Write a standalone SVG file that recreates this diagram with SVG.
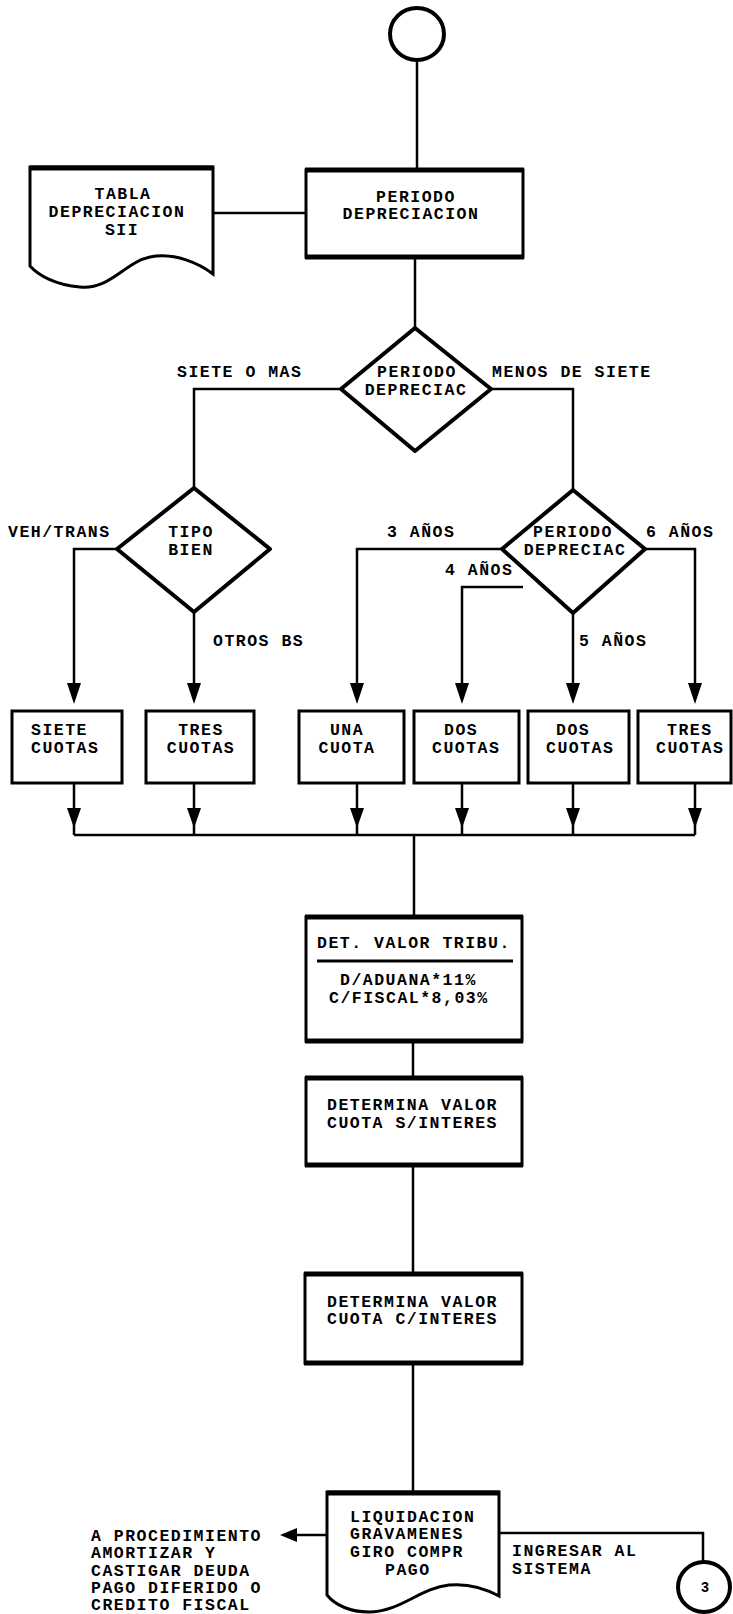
<svg xmlns="http://www.w3.org/2000/svg" width="733" height="1614" viewBox="0 0 733 1614">
<defs>
<style>
.t{font-family:"Liberation Mono","DejaVu Sans Mono",monospace;font-weight:bold;font-size:16.5px;letter-spacing:1.5px;fill:#000}
.m{text-anchor:middle}
.ln{fill:none;stroke:#000;stroke-width:2.5}
.bx{fill:#fff;stroke:#000;stroke-width:3}
.thk{stroke:#000;stroke-width:5}
.dm{fill:#fff;stroke:#000;stroke-width:4;stroke-linejoin:round}
.ah{fill:#000}
</style>
</defs>
<rect width="733" height="1614" fill="#fff"/>
<g id="connectors">
<path class="ln" d="M417,60 V170"/>
<path class="ln" d="M213,213 H306"/>
<path class="ln" d="M415,257 V328"/>
<path class="ln" d="M341,389 H194 V488"/>
<path class="ln" d="M491,389 H573 V490"/>
<path class="ln" d="M117,549 H74 V685"/>
<path class="ln" d="M194,612 V685"/>
<path class="ln" d="M502,549 H357 V685"/>
<path class="ln" d="M523,587 H462 V685"/>
<path class="ln" d="M573,613 V685"/>
<path class="ln" d="M645,549 H695 V685"/>
<polygon class="ah" points="67,683 81,683 74,704"/>
<polygon class="ah" points="187,683 201,683 194,704"/>
<polygon class="ah" points="350,683 364,683 357,704"/>
<polygon class="ah" points="455,683 469,683 462,704"/>
<polygon class="ah" points="566,683 580,683 573,704"/>
<polygon class="ah" points="688,683 702,683 695,704"/>
<path class="ln" d="M74,783 V835 M194,783 V835 M357,783 V835 M462,783 V835 M573,783 V835 M695,783 V835"/>
<path class="ln" d="M74,835 H695"/>
<polygon class="ah" points="67,808 81,808 74,828"/>
<polygon class="ah" points="187,808 201,808 194,828"/>
<polygon class="ah" points="350,808 364,808 357,828"/>
<polygon class="ah" points="455,808 469,808 462,828"/>
<polygon class="ah" points="566,808 580,808 573,828"/>
<polygon class="ah" points="688,808 702,808 695,828"/>
<path class="ln" d="M414,835 V917"/>
<path class="ln" d="M413,1041 V1078"/>
<path class="ln" d="M413,1165 V1274"/>
<path class="ln" d="M413,1363 V1492"/>
<path class="ln" d="M327,1535 H295"/>
<polygon class="ah" points="297,1528 297,1542 280,1535"/>
<path class="ln" d="M499,1533 H703 V1562"/>
</g>
<g id="start">
<ellipse cx="417" cy="34" rx="27" ry="26" fill="#fff" stroke="#000" stroke-width="4"/>
</g>
<g id="tabla">
<path class="bx" d="M30,167 H213 V274 C200,264 175,252 150,257 C125,262 110,290 80,287 C55,285 38,275 30,266 Z"/>
<path class="thk" d="M30,168 H213"/>
<text class="t m" x="123" y="199">TABLA</text>
<text class="t m" x="117" y="217">DEPRECIACION</text>
<text class="t m" x="122" y="235">SII</text>
</g>
<g id="periodo-box">
<rect class="bx" x="306" y="170" width="217" height="87"/>
<path class="thk" d="M305,170 H524 M305,257 H524"/>
<text class="t m" x="416" y="202">PERIODO</text>
<text class="t m" x="411" y="219">DEPRECIACION</text>
</g>
<g id="dec1">
<polygon class="dm" points="415,328 491,389 415,451 341,389"/>
<text class="t m" x="417" y="377">PERIODO</text>
<text class="t m" x="416" y="395">DEPRECIAC</text>
<text class="t" x="177" y="377">SIETE O MAS</text>
<text class="t" x="492" y="377">MENOS DE SIETE</text>
</g>
<g id="dec-tipo">
<polygon class="dm" points="194,488 270,549 194,612 117,549"/>
<text class="t m" x="191" y="537">TIPO</text>
<text class="t m" x="191" y="555">BIEN</text>
<text class="t" x="8" y="537">VEH/TRANS</text>
<text class="t" x="213" y="646">OTROS BS</text>
</g>
<g id="dec2">
<polygon class="dm" points="573,490 645,549 573,613 502,549"/>
<text class="t m" x="573" y="537">PERIODO</text>
<text class="t m" x="575" y="555">DEPRECIAC</text>
<text class="t" x="387" y="537">3 AÑOS</text>
<text class="t" x="646" y="537">6 AÑOS</text>
<text class="t" x="445" y="575">4 AÑOS</text>
<text class="t" x="579" y="646">5 AÑOS</text>
</g>
<g id="siete-cuotas">
<rect class="bx" x="12" y="711" width="110" height="72"/>
<text class="t" x="31" y="735">SIETE</text>
<text class="t" x="31" y="753">CUOTAS</text>
</g>
<g id="tres-cuotas-1">
<rect class="bx" x="146" y="711" width="108" height="72"/>
<text class="t m" x="201" y="735">TRES</text>
<text class="t m" x="201" y="753">CUOTAS</text>
</g>
<g id="una-cuota">
<rect class="bx" x="299" y="711" width="105" height="72"/>
<text class="t m" x="347" y="735">UNA</text>
<text class="t m" x="347" y="753">CUOTA</text>
</g>
<g id="dos-cuotas-1">
<rect class="bx" x="414" y="711" width="105" height="72"/>
<text class="t" x="444" y="735">DOS</text>
<text class="t" x="432" y="753">CUOTAS</text>
</g>
<g id="dos-cuotas-2">
<rect class="bx" x="528" y="711" width="101" height="72"/>
<text class="t" x="556" y="735">DOS</text>
<text class="t" x="546" y="753">CUOTAS</text>
</g>
<g id="tres-cuotas-2">
<rect class="bx" x="638" y="711" width="93" height="72"/>
<text class="t" x="667" y="735">TRES</text>
<text class="t" x="656" y="753">CUOTAS</text>
</g>
<g id="det-valor">
<rect class="bx" x="306" y="917" width="216" height="124"/>
<path class="thk" d="M305,917 H523 M305,1041 H523"/>
<text class="t" x="317" y="948">DET. VALOR TRIBU.</text>
<path d="M317,961 H513" stroke="#000" stroke-width="3"/>
<text class="t" x="340" y="985">D/ADUANA*11%</text>
<text class="t" x="329" y="1003">C/FISCAL*8,03%</text>
</g>
<g id="cuota-sin">
<rect class="bx" x="306" y="1078" width="216" height="87"/>
<path class="thk" d="M305,1078 H523 M305,1165 H523"/>
<text class="t" x="327" y="1110">DETERMINA VALOR</text>
<text class="t" x="327" y="1128">CUOTA S/INTERES</text>
</g>
<g id="cuota-con">
<rect class="bx" x="305" y="1274" width="217" height="89"/>
<path class="thk" d="M304,1274 H523 M304,1363 H523"/>
<text class="t" x="327" y="1307">DETERMINA VALOR</text>
<text class="t" x="327" y="1324">CUOTA C/INTERES</text>
</g>
<g id="liquidacion">
<path class="bx" d="M327,1492 H499 V1596 C488,1590 470,1583 449,1585 C420,1588 400,1612 369,1612 C350,1612 335,1605 327,1595 Z"/>
<path class="thk" d="M327,1493 H499"/>
<text class="t" x="350" y="1522">LIQUIDACION</text>
<text class="t" x="350" y="1539">GRAVAMENES</text>
<text class="t" x="350" y="1557">GIRO COMPR</text>
<text class="t" x="385" y="1575">PAGO</text>
</g>
<g id="procedimiento">
<text class="t" x="91" y="1541">A PROCEDIMIENTO</text>
<text class="t" x="91" y="1558">AMORTIZAR Y</text>
<text class="t" x="91" y="1576">CASTIGAR DEUDA</text>
<text class="t" x="91" y="1593">PAGO DIFERIDO O</text>
<text class="t" x="91" y="1610">CREDITO FISCAL</text>
</g>
<g id="ingresar">
<text class="t" x="512" y="1556">INGRESAR AL</text>
<text class="t" x="512" y="1574">SISTEMA</text>
</g>
<g id="conector-3">
<ellipse cx="704" cy="1587" rx="26" ry="25" fill="#fff" stroke="#000" stroke-width="4"/>
<text class="t m" x="705" y="1592" style="font-size:14px;letter-spacing:0">3</text>
</g>
</svg>
